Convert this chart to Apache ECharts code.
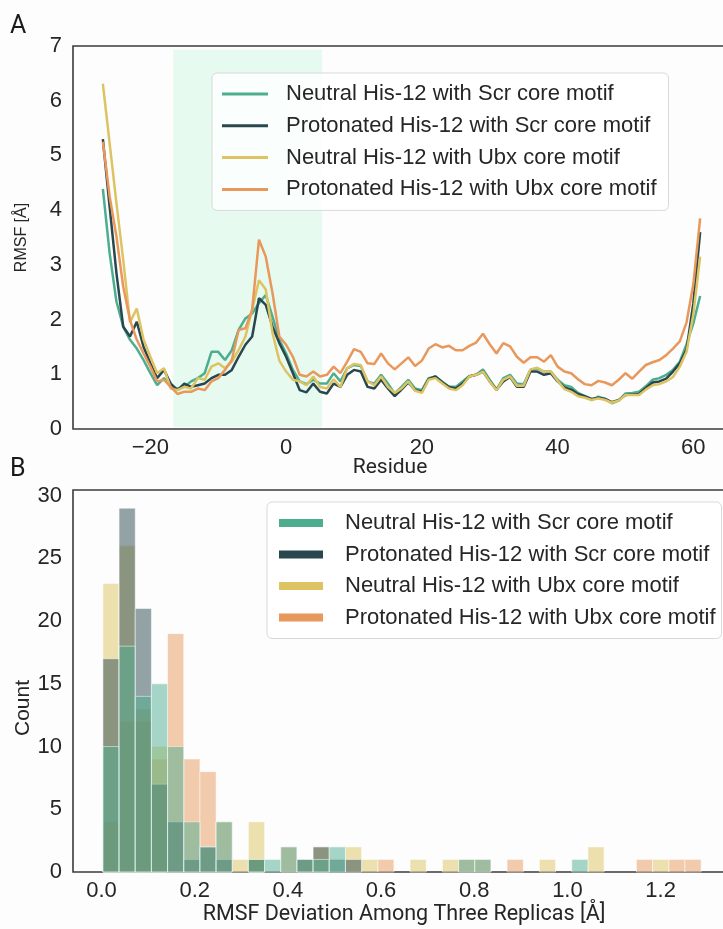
<!DOCTYPE html>
<html>
<head>
<meta charset="utf-8">
<script src="https://cdn.jsdelivr.net/npm/echarts@6/dist/echarts.min.js"></script>
<style>
  html, body { margin: 0; padding: 0; background: #fdfdfd; overflow: hidden; }
  /* the plot frames run slightly past the right edge of the page, so the canvas is a little wider than the view */
  #chart { width: 734px; height: 929px; }
</style>
</head>
<body>
<div id="chart"></div>
<script>
// ---------- Panel A: per-residue RMSF ----------
const firstResidue = -27;
const lastResidue = 61;
const residues = Array.from({ length: lastResidue - firstResidue + 1 }, (_, i) => firstResidue + i);

const rmsfNeutralScr = [
  4.39, 3.21, 2.33, 1.87, 1.63, 1.47, 1.26, 1.02, 0.80, 0.93, 0.77, 0.74, 0.77, 0.87, 0.93,
  1.02, 1.41, 1.41, 1.26, 1.44, 1.81, 2.02, 2.11, 2.30, 2.45, 2.05, 1.63, 1.38, 1.08, 0.87,
  0.82, 0.90, 0.83, 0.83, 1.02, 0.87, 1.11, 1.17, 1.15, 0.87, 0.83, 0.99, 0.83, 0.65, 0.77,
  0.90, 0.74, 0.71, 0.93, 0.96, 0.87, 0.77, 0.77, 0.87, 0.97, 0.99, 1.09, 0.90, 0.72, 0.93,
  0.99, 0.83, 0.82, 1.08, 1.11, 1.05, 1.05, 0.90,
  0.80, 0.77, 0.66, 0.60, 0.53, 0.59, 0.55, 0.47, 0.52, 0.65, 0.66, 0.68, 0.78, 0.90, 0.93,
  0.99, 1.08, 1.23, 1.55, 1.93, 2.43
];
const rmsfProtonatedScr = [
  5.30, 4.06, 2.85, 1.87, 1.69, 1.96, 1.50, 1.20, 0.93, 1.08, 0.83, 0.71, 0.83, 0.77, 0.80,
  0.83, 0.93, 0.99, 0.99, 1.08, 1.32, 1.54, 1.69, 2.39, 2.27, 1.87, 1.57, 1.32, 1.02, 0.71,
  0.67, 0.83, 0.68, 0.65, 0.83, 0.77, 0.99, 1.08, 1.05, 0.77, 0.74, 0.90, 0.74, 0.60, 0.72,
  0.85, 0.71, 0.68, 0.91, 0.96, 0.85, 0.77, 0.74, 0.83, 0.96, 0.99, 1.05, 0.87, 0.72, 0.87,
  0.95, 0.77, 0.77, 1.05, 1.05, 0.99, 1.02, 0.87,
  0.76, 0.72, 0.64, 0.60, 0.55, 0.57, 0.55, 0.49, 0.53, 0.62, 0.63, 0.64, 0.75, 0.85, 0.87,
  0.92, 1.05, 1.20, 1.45, 2.30, 3.60
];
const rmsfNeutralUbx = [
  6.31, 5.22, 4.13, 3.09, 1.95, 2.20, 1.63, 1.32, 1.02, 1.11, 0.74, 0.71, 0.77, 0.74, 0.93,
  0.90, 1.14, 1.20, 1.11, 1.23, 1.44, 1.69, 2.18, 2.72, 2.55, 1.75, 1.25, 1.05, 0.90, 0.87,
  0.80, 0.96, 0.77, 0.74, 0.91, 0.77, 1.11, 1.19, 1.17, 0.87, 0.80, 0.96, 0.77, 0.66, 0.74,
  0.87, 0.70, 0.66, 0.90, 0.93, 0.83, 0.74, 0.71, 0.80, 0.96, 0.99, 1.05, 0.87, 0.71, 0.90,
  0.96, 0.79, 0.79, 1.09, 1.12, 1.05, 1.05, 0.88,
  0.73, 0.68, 0.60, 0.57, 0.53, 0.56, 0.53, 0.48, 0.52, 0.62, 0.62, 0.62, 0.72, 0.80, 0.82,
  0.87, 0.95, 1.14, 1.41, 2.10, 3.15
];
const rmsfProtonatedUbx = [
  5.25, 4.25, 3.52, 2.60, 1.99, 1.63, 1.38, 1.14, 0.87, 0.90, 0.77, 0.64, 0.68, 0.68, 0.74,
  0.71, 0.87, 0.93, 1.08, 1.26, 1.81, 1.84, 2.18, 3.46, 3.15, 2.48, 1.69, 1.54, 1.32, 0.99,
  0.96, 1.05, 0.96, 0.99, 1.14, 1.02, 1.23, 1.46, 1.41, 1.20, 1.19, 1.38, 1.20, 1.09, 1.20,
  1.31, 1.15, 1.25, 1.47, 1.55, 1.49, 1.52, 1.44, 1.44, 1.52, 1.58, 1.74, 1.55, 1.38, 1.57,
  1.51, 1.32, 1.21, 1.31, 1.31, 1.23, 1.35, 1.14,
  1.05, 1.02, 0.91, 0.82, 0.80, 0.88, 0.85, 0.80, 0.90, 1.02, 0.92, 1.05, 1.17, 1.22, 1.26,
  1.35, 1.47, 1.60, 1.95, 2.65, 3.85
];

// Highlighted residue window (shaded band) and its vertical extent in Å
const highlightResidues = [-16.6, 5.3];
const highlightRmsf = [0.03, 6.93];

const residueTicks = [-20, 0, 20, 40, 60];
const rmsfTicks = [0, 1, 2, 3, 4, 5, 6, 7];

// ---------- Panel B: histogram of RMSF deviation among replicas ----------
const binStart = 0.003;
const binWidth = 0.0347;
const countsNeutralScr = [10, 18, 14, 15, 10, 4, 2, 4, 0, 1, 1, 2, 1, 1, 2, 0, 0, 0, 0, 0, 0, 0, 1, 1, 0, 0, 0, 0, 0, 1, 0, 0, 0, 0, 0, 0, 0];
const countsProtonatedScr = [17, 29, 21, 7, 4, 1, 2, 1, 0, 1, 0, 0, 1, 2, 1, 1, 0, 0, 0, 0, 0, 0, 0, 0, 0, 0, 0, 0, 0, 0, 0, 0, 0, 0, 0, 0, 0];
const countsNeutralUbx = [23, 26, 13, 10, 0, 0, 0, 0, 1, 4, 0, 0, 0, 2, 0, 2, 1, 0, 0, 1, 0, 1, 0, 0, 0, 0, 0, 1, 0, 0, 2, 0, 0, 0, 1, 0, 0];
const countsProtonatedUbx = [4, 12, 12, 9, 19, 9, 8, 4, 0, 1, 0, 2, 1, 0, 0, 0, 0, 1, 0, 0, 0, 0, 1, 1, 0, 1, 0, 0, 0, 0, 0, 0, 0, 1, 0, 1, 1];

const deviationTicks = [0, 0.2, 0.4, 0.6, 0.8, 1.0, 1.2];
const countTicks = [0, 5, 10, 15, 20, 25, 30];

const seriesNames = [
  'Neutral His-12 with Scr core motif',
  'Protonated His-12 with Scr core motif',
  'Neutral His-12 with Ubx core motif',
  'Protonated His-12 with Ubx core motif'
];
const rmsfSets = [rmsfNeutralScr, rmsfProtonatedScr, rmsfNeutralUbx, rmsfProtonatedUbx];
const countSets = [countsNeutralScr, countsProtonatedScr, countsNeutralUbx, countsProtonatedUbx];
const palette = ['#4dae8f', '#28474e', '#dec362', '#e8985b'];

const TICK_FONT = '"Liberation Sans", Arial, sans-serif';
const TITLE_FONT = 'Roboto, "Liberation Sans", sans-serif';
const INK = '#262626';

// Axis extents with a 5% margin around the data, as in the plotting defaults
const resPad = 0.05 * (lastResidue - firstResidue);
const binCount = countsNeutralScr.length;
const binEnd = binStart + binCount * binWidth;
const devPad = 0.05 * (binEnd - binStart);
const maxCount = Math.max(...countSets.flat());

const minusFmt = v => (v < 0 ? '\u2212' + Math.abs(v) : String(v));

function axisCommon(extra) {
  return Object.assign({
    type: 'value',
    axisLine: { show: false },
    axisTick: { show: false },
    splitLine: { show: false }
  }, extra);
}

const lineSeries = rmsfSets.map((vals, i) => ({
  type: 'line',
  name: seriesNames[i],
  xAxisIndex: 0,
  yAxisIndex: 0,
  data: residues.map((r, k) => [r, vals[k]]),
  showSymbol: false,
  symbol: 'none',
  z: 3,
  lineStyle: { color: palette[i], width: 2.5 },
  itemStyle: { color: palette[i] }
}));

const shadeSeries = {
  type: 'custom',
  name: 'highlight',
  xAxisIndex: 0,
  yAxisIndex: 0,
  z: 1,
  silent: true,
  data: [[highlightResidues[0], highlightResidues[1], highlightRmsf[0], highlightRmsf[1]]],
  renderItem(params, api) {
    const a = api.coord([api.value(0), api.value(3)]);
    const b = api.coord([api.value(1), api.value(2)]);
    return {
      type: 'rect',
      shape: { x: a[0], y: a[1], width: b[0] - a[0], height: b[1] - a[1] },
      style: { fill: '#e6faf0' }
    };
  }
};

function histSeries(i) {
  const data = [];
  countSets[i].forEach((c, k) => {
    if (c > 0) data.push([binStart + k * binWidth, binStart + (k + 1) * binWidth, c]);
  });
  return {
    type: 'custom',
    name: seriesNames[i],
    xAxisIndex: 1,
    yAxisIndex: 1,
    z: 3,
    data,
    encode: { x: [0, 1], y: 2 },
    itemStyle: { color: palette[i] },
    renderItem(params, api) {
      const a = api.coord([api.value(0), api.value(2)]);
      const b = api.coord([api.value(1), 0]);
      return {
        type: 'rect',
        shape: { x: a[0], y: a[1], width: b[0] - a[0], height: b[1] - a[1] },
        style: { fill: palette[i], stroke: '#ffffff', lineWidth: 1, opacity: 0.5 }
      };
    }
  };
}
// Later hue levels are laid down first so the first one ends up on top
const histogramSeries = [3, 2, 1, 0].map(histSeries);

function legendBlock(left, top, iconW, iconH, gap, pad, textPad) {
  return {
    orient: 'vertical',
    left, top,
    itemWidth: iconW,
    itemHeight: iconH,
    itemGap: gap,
    padding: pad,
    selectedMode: false,
    backgroundColor: 'rgba(255,255,255,0.8)',
    borderColor: '#d9d9d9',
    borderWidth: 1,
    borderRadius: 5,
    textStyle: { fontFamily: TICK_FONT, fontSize: 22, color: INK, lineHeight: 22, padding: [0, 0, 0, textPad] },
    data: seriesNames.map((n, i) => ({
      name: n,
      icon: 'rect',
      itemStyle: { color: palette[i], borderWidth: 0, opacity: 1 }
    }))
  };
}

const chart = echarts.init(document.getElementById('chart'), null, { renderer: 'canvas' });

chart.setOption({
  animation: false,
  backgroundColor: '#fdfdfd',
  grid: [
    { left: 73, top: 46, width: 657, height: 383, outerBoundsMode: 'none', show: true, borderColor: '#3b3b3b', borderWidth: 1.6, backgroundColor: 'transparent' },
    { left: 73, top: 490, width: 658, height: 382, outerBoundsMode: 'none', show: true, borderColor: '#3b3b3b', borderWidth: 1.6, backgroundColor: 'transparent' }
  ],
  xAxis: [
    axisCommon({
      gridIndex: 0,
      min: firstResidue - resPad,
      max: lastResidue + resPad,
      axisLabel: {
        customValues: residueTicks,
        formatter: minusFmt,
        fontFamily: TICK_FONT, fontSize: 22, color: INK, margin: 8
      }
    }),
    axisCommon({
      gridIndex: 1,
      min: binStart - devPad,
      max: binEnd + devPad,
      axisLabel: {
        customValues: deviationTicks,
        formatter: v => v.toFixed(1),
        fontFamily: TICK_FONT, fontSize: 22, color: INK, margin: 8
      }
    })
  ],
  yAxis: [
    axisCommon({
      gridIndex: 0,
      min: 0,
      max: 7,
      axisLabel: { customValues: rmsfTicks, fontFamily: TICK_FONT, fontSize: 22, color: INK, margin: 11 }
    }),
    axisCommon({
      gridIndex: 1,
      min: 0,
      max: maxCount * 1.05,
      axisLabel: { customValues: countTicks, fontFamily: TICK_FONT, fontSize: 22, color: INK, margin: 11 }
    })
  ],
  legend: [
    legendBlock(212, 73, 46, 3, 9.8, [10, 12, 10, 10], 13),
    legendBlock(267, 502, 44, 8, 9.5, [10, 6, 10, 12], 17)
  ],
  graphic: [
    { type: 'text', left: 10, top: 14, style: { text: 'A', fontFamily: TITLE_FONT, fontSize: 25, fill: '#1a1a1a' } },
    { type: 'text', left: 10, top: 457, style: { text: 'B', fontFamily: TITLE_FONT, fontSize: 25, fill: '#1a1a1a' } },
    { type: 'text', x: 22, y: 237.5, rotation: Math.PI / 2,
      style: { text: 'RMSF [Å]', fontFamily: TICK_FONT, fontSize: 16, fill: INK, align: 'center', verticalAlign: 'middle' } },
    { type: 'text', x: 23, y: 708, rotation: Math.PI / 2,
      style: { text: 'Count', fontFamily: TICK_FONT, fontSize: 21, fill: INK, align: 'center', verticalAlign: 'middle' } },
    { type: 'text', x: 390, y: 468,
      style: { text: 'Residue', fontFamily: TITLE_FONT, fontSize: 21, fill: INK, align: 'center', verticalAlign: 'middle' } },
    { type: 'text', x: 404, y: 915,
      style: { text: 'RMSF Deviation Among Three Replicas [Å]', fontFamily: TITLE_FONT, fontSize: 21.5, fill: INK, align: 'center', verticalAlign: 'middle' } }
  ],
  series: [shadeSeries, ...lineSeries, ...histogramSeries]
});
</script>
</body>
</html>
